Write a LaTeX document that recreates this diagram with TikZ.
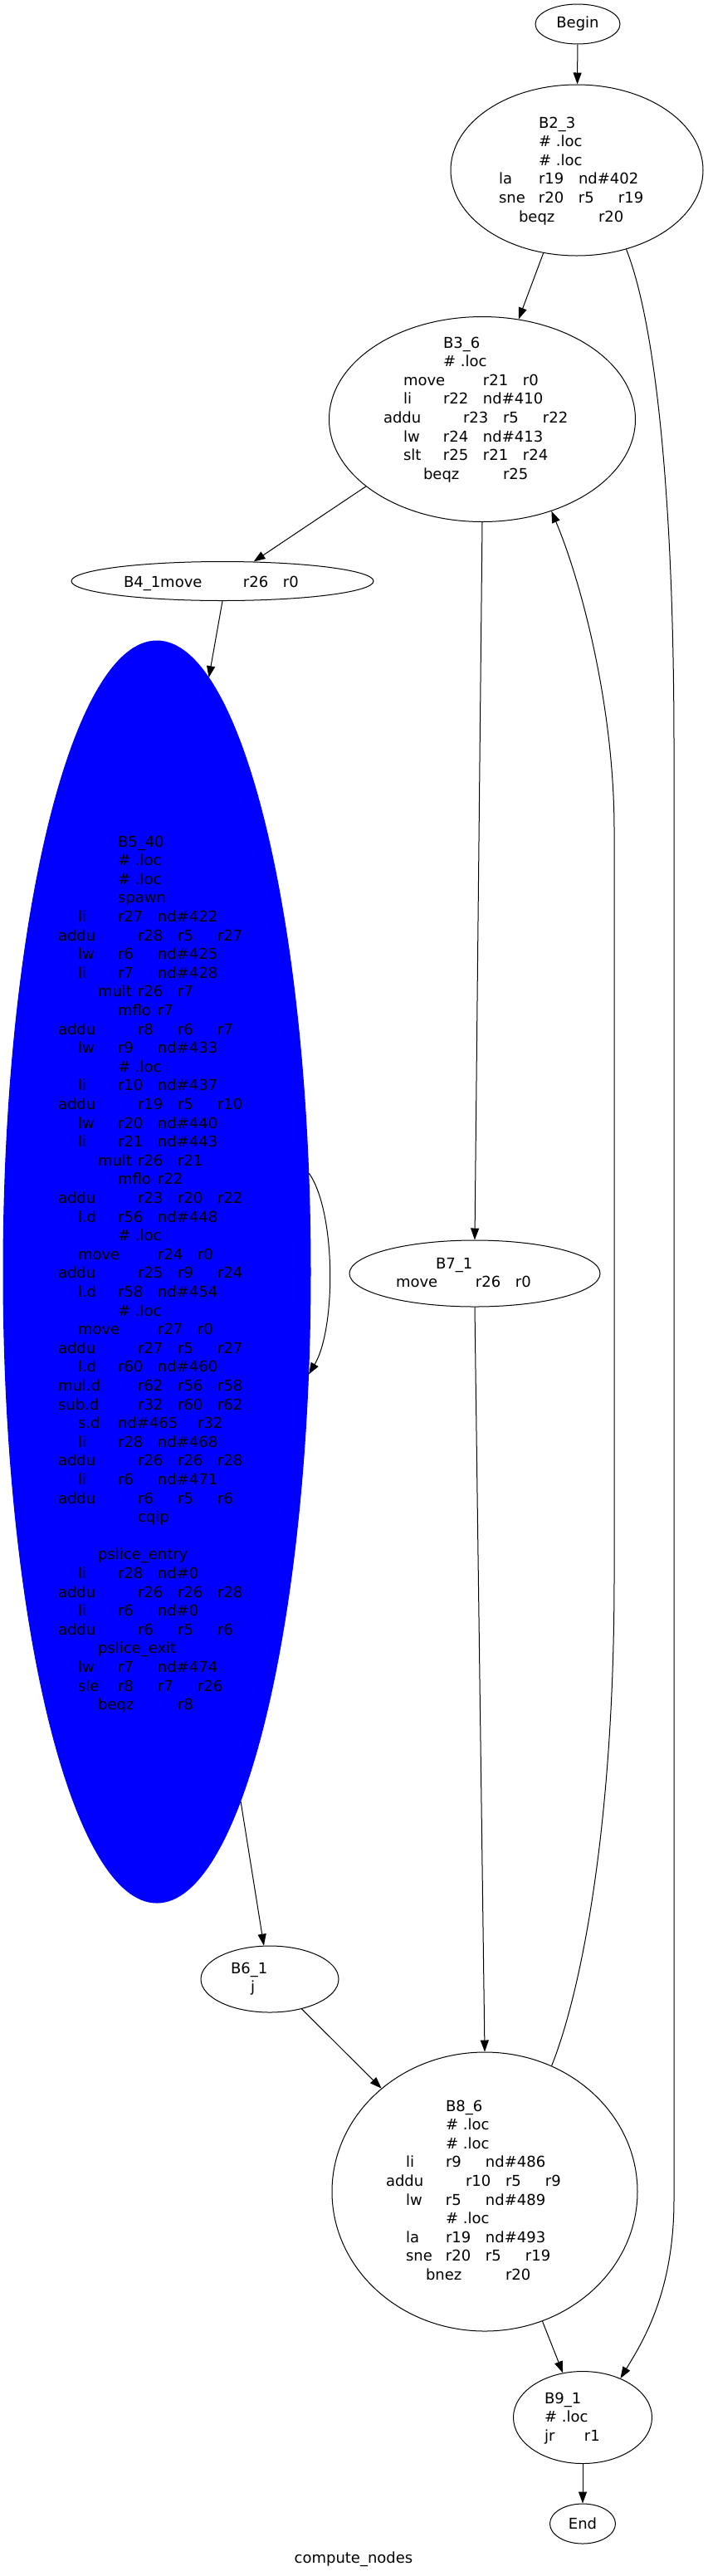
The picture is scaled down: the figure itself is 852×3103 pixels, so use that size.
\documentclass[tikz,border=0pt]{standalone}
\usepackage{fontspec}
\setmainfont{DejaVu Sans}
\usetikzlibrary{shapes.geometric,arrows.meta}

\newlength\tabw
\setlength\tabw{24pt}
% one line of a block: stop/text pairs, stops are 24pt apart
\newcommand\bbline[1]{\hbox{\foreach \tpos/\ttxt in {#1}{\rlap{\hspace*{\tpos\tabw}\ttxt}}}}
\newcommand\bbgap{\hbox{}}
\newcommand\bbtext[1]{\vtop{\baselineskip=22.6pt\lineskiplimit=-100pt\lineskip=0pt\relax #1}}

\begin{document}
\begin{tikzpicture}[
  x=1pt, y=-1pt,
  font=\fontsize{18}{22.6}\selectfont,
  bb/.style={ellipse, draw=black, line width=1pt, inner sep=0pt},
  bbhot/.style={bb, draw=blue, fill=blue},
  bbtxt/.style={anchor=base, inner sep=0pt},
  edge/.style={-{Triangle[length=14pt,width=10pt]}, line width=1pt, black}
]
\useasboundingbox (0,0) rectangle (852,3103);
% ---------- entry ----------
\node[bb, minimum width=102pt, minimum height=48pt] (begin) at (696,29) {Begin};
\node[bb, minimum width=304pt, minimum height=206pt] (b23) at (695,205) {};
\node[bbtxt] (b23t) at (601,154) {\bbtext{%
  \bbline{2/B2\_3}
  \bbline{2/\# .loc}
  \bbline{2/\# .loc}
  \bbline{0/la,2/r19,4/nd\#402}
  \bbline{0/sne,2/r20,4/r5,6/r19}
  \bbline{1/beqz,5/r20}}};
\node[bb, minimum width=369pt, minimum height=247pt] (b36) at (581,505) {};
\node[bbtxt] (b36t) at (462,419) {\bbtext{%
  \bbline{3/B3\_6}
  \bbline{3/\# .loc}
  \bbline{1/move,5/r21,7/r0}
  \bbline{1/li,3/r22,5/nd\#410}
  \bbline{0/addu,4/r23,6/r5,8/r22}
  \bbline{1/lw,3/r24,5/nd\#413}
  \bbline{1/slt,3/r25,5/r21,7/r24}
  \bbline{2/beqz,6/r25}}};
\node[bb, minimum width=364pt, minimum height=47pt] (b41) at (268,700) {};
\node[bbtxt] (b41t) at (149,707) {\bbtext{\bbline{0/B4\_1move,6/r26,8/r0}}};
% ---------- loop body ----------
\node[bbhot, minimum width=370pt, minimum height=1520pt] (b540) at (189,1532) {};
\node[bbtxt] (b540t) at (70,1020) {\bbtext{%
  \bbline{3/B5\_40}
  \bbline{3/\# .loc}
  \bbline{3/\# .loc}
  \bbline{3/spawn}
  \bbline{1/li,3/r27,5/nd\#422}
  \bbline{0/addu,4/r28,6/r5,8/r27}
  \bbline{1/lw,3/r6,5/nd\#425}
  \bbline{1/li,3/r7,5/nd\#428}
  \bbline{2/mult,4/r26,6/r7}
  \bbline{3/mflo,5/r7}
  \bbline{0/addu,4/r8,6/r6,8/r7}
  \bbline{1/lw,3/r9,5/nd\#433}
  \bbline{3/\# .loc}
  \bbline{1/li,3/r10,5/nd\#437}
  \bbline{0/addu,4/r19,6/r5,8/r10}
  \bbline{1/lw,3/r20,5/nd\#440}
  \bbline{1/li,3/r21,5/nd\#443}
  \bbline{2/mult,4/r26,6/r21}
  \bbline{3/mflo,5/r22}
  \bbline{0/addu,4/r23,6/r20,8/r22}
  \bbline{1/l.d,3/r56,5/nd\#448}
  \bbline{3/\# .loc}
  \bbline{1/move,5/r24,7/r0}
  \bbline{0/addu,4/r25,6/r9,8/r24}
  \bbline{1/l.d,3/r58,5/nd\#454}
  \bbline{3/\# .loc}
  \bbline{1/move,5/r27,7/r0}
  \bbline{0/addu,4/r27,6/r5,8/r27}
  \bbline{1/l.d,3/r60,5/nd\#460}
  \bbline{0/mul.d,4/r62,6/r56,8/r58}
  \bbline{0/sub.d,4/r32,6/r60,8/r62}
  \bbline{1/s.d,3/nd\#465,7/r32}
  \bbline{1/li,3/r28,5/nd\#468}
  \bbline{0/addu,4/r26,6/r26,8/r28}
  \bbline{1/li,3/r6,5/nd\#471}
  \bbline{0/addu,4/r6,6/r5,8/r6}
  \bbline{4/cqip}
  \bbgap
  \bbline{2/pslice\_entry}
  \bbline{1/li,3/r28,5/nd\#0}
  \bbline{0/addu,4/r26,6/r26,8/r28}
  \bbline{1/li,3/r6,5/nd\#0}
  \bbline{0/addu,4/r6,6/r5,8/r6}
  \bbline{2/pslice\_exit}
  \bbline{1/lw,3/r7,5/nd\#474}
  \bbline{1/sle,3/r8,5/r7,7/r26}
  \bbline{2/beqz,6/r8}}};
\node[bb, minimum width=302pt, minimum height=80pt] (b71) at (572,1534) {};
\node[bbtxt] (b71t) at (477,1528) {\bbtext{%
  \bbline{2/B7\_1}
  \bbline{0/move,4/r26,6/r0}}};
\node[bb, minimum width=166pt, minimum height=80pt] (b61) at (325,2384) {};
\node[bbtxt] (b61t) at (278,2377) {\bbtext{%
  \bbline{0/B6\_1}
  \bbline{1/j}}};
% ---------- exit ----------
\node[bb, minimum width=368pt, minimum height=336pt] (b86) at (584,2640) {};
\node[bbtxt] (b86t) at (465,2543) {\bbtext{%
  \bbline{3/B8\_6}
  \bbline{3/\# .loc}
  \bbline{3/\# .loc}
  \bbline{1/li,3/r9,5/nd\#486}
  \bbline{0/addu,4/r10,6/r5,8/r9}
  \bbline{1/lw,3/r5,5/nd\#489}
  \bbline{3/\# .loc}
  \bbline{1/la,3/r19,5/nd\#493}
  \bbline{1/sne,3/r20,5/r5,7/r19}
  \bbline{2/bnez,6/r20}}};
\node[bb, minimum width=167pt, minimum height=111pt] (b91) at (702,2912) {};
\node[bbtxt] (b91t) at (656,2895) {\bbtext{%
  \bbline{0/B9\_1}
  \bbline{0/\# .loc}
  \bbline{0/jr,2/r1}}};
\node[bb, minimum width=79pt, minimum height=48pt] (end) at (702,3040) {End};
\node[bbtxt] (title) at (426,3087) {compute\_nodes};
% ---------- edges ----------
\draw[edge] (begin) -- (b23);
\draw[edge] (b23.248) -- (b36.70);
\draw[edge] (b23.-58) .. controls (790,390) and (812,600) .. (812,900)
  -- (812,2650) .. controls (812,2760) and (775,2820) .. (b91.46);
\draw[edge] (b36.210) -- (b41.32);
\draw[edge] (b36.south) -- (b71.north);
\draw[edge] (b41.south) -- (b540.85);
\draw[edge] (b540.33) .. controls (405,1460) and (405,1600) .. (b540.-34);
\draw[edge] (b540.-81) -- (b61.100);
\draw[edge] (b61.-43) -- (b86.135);
\draw[edge] (b71.south) -- (b86.north);
\draw[edge] (b86.62) .. controls (700,2400) and (740,2200) .. (740,1900)
  -- (740,1000) .. controls (740,850) and (700,700) .. (b36.-53);
\draw[edge] (b86.-66) -- (b91.114);
\draw[edge] (b91) -- (end);
\end{tikzpicture}
\end{document}
